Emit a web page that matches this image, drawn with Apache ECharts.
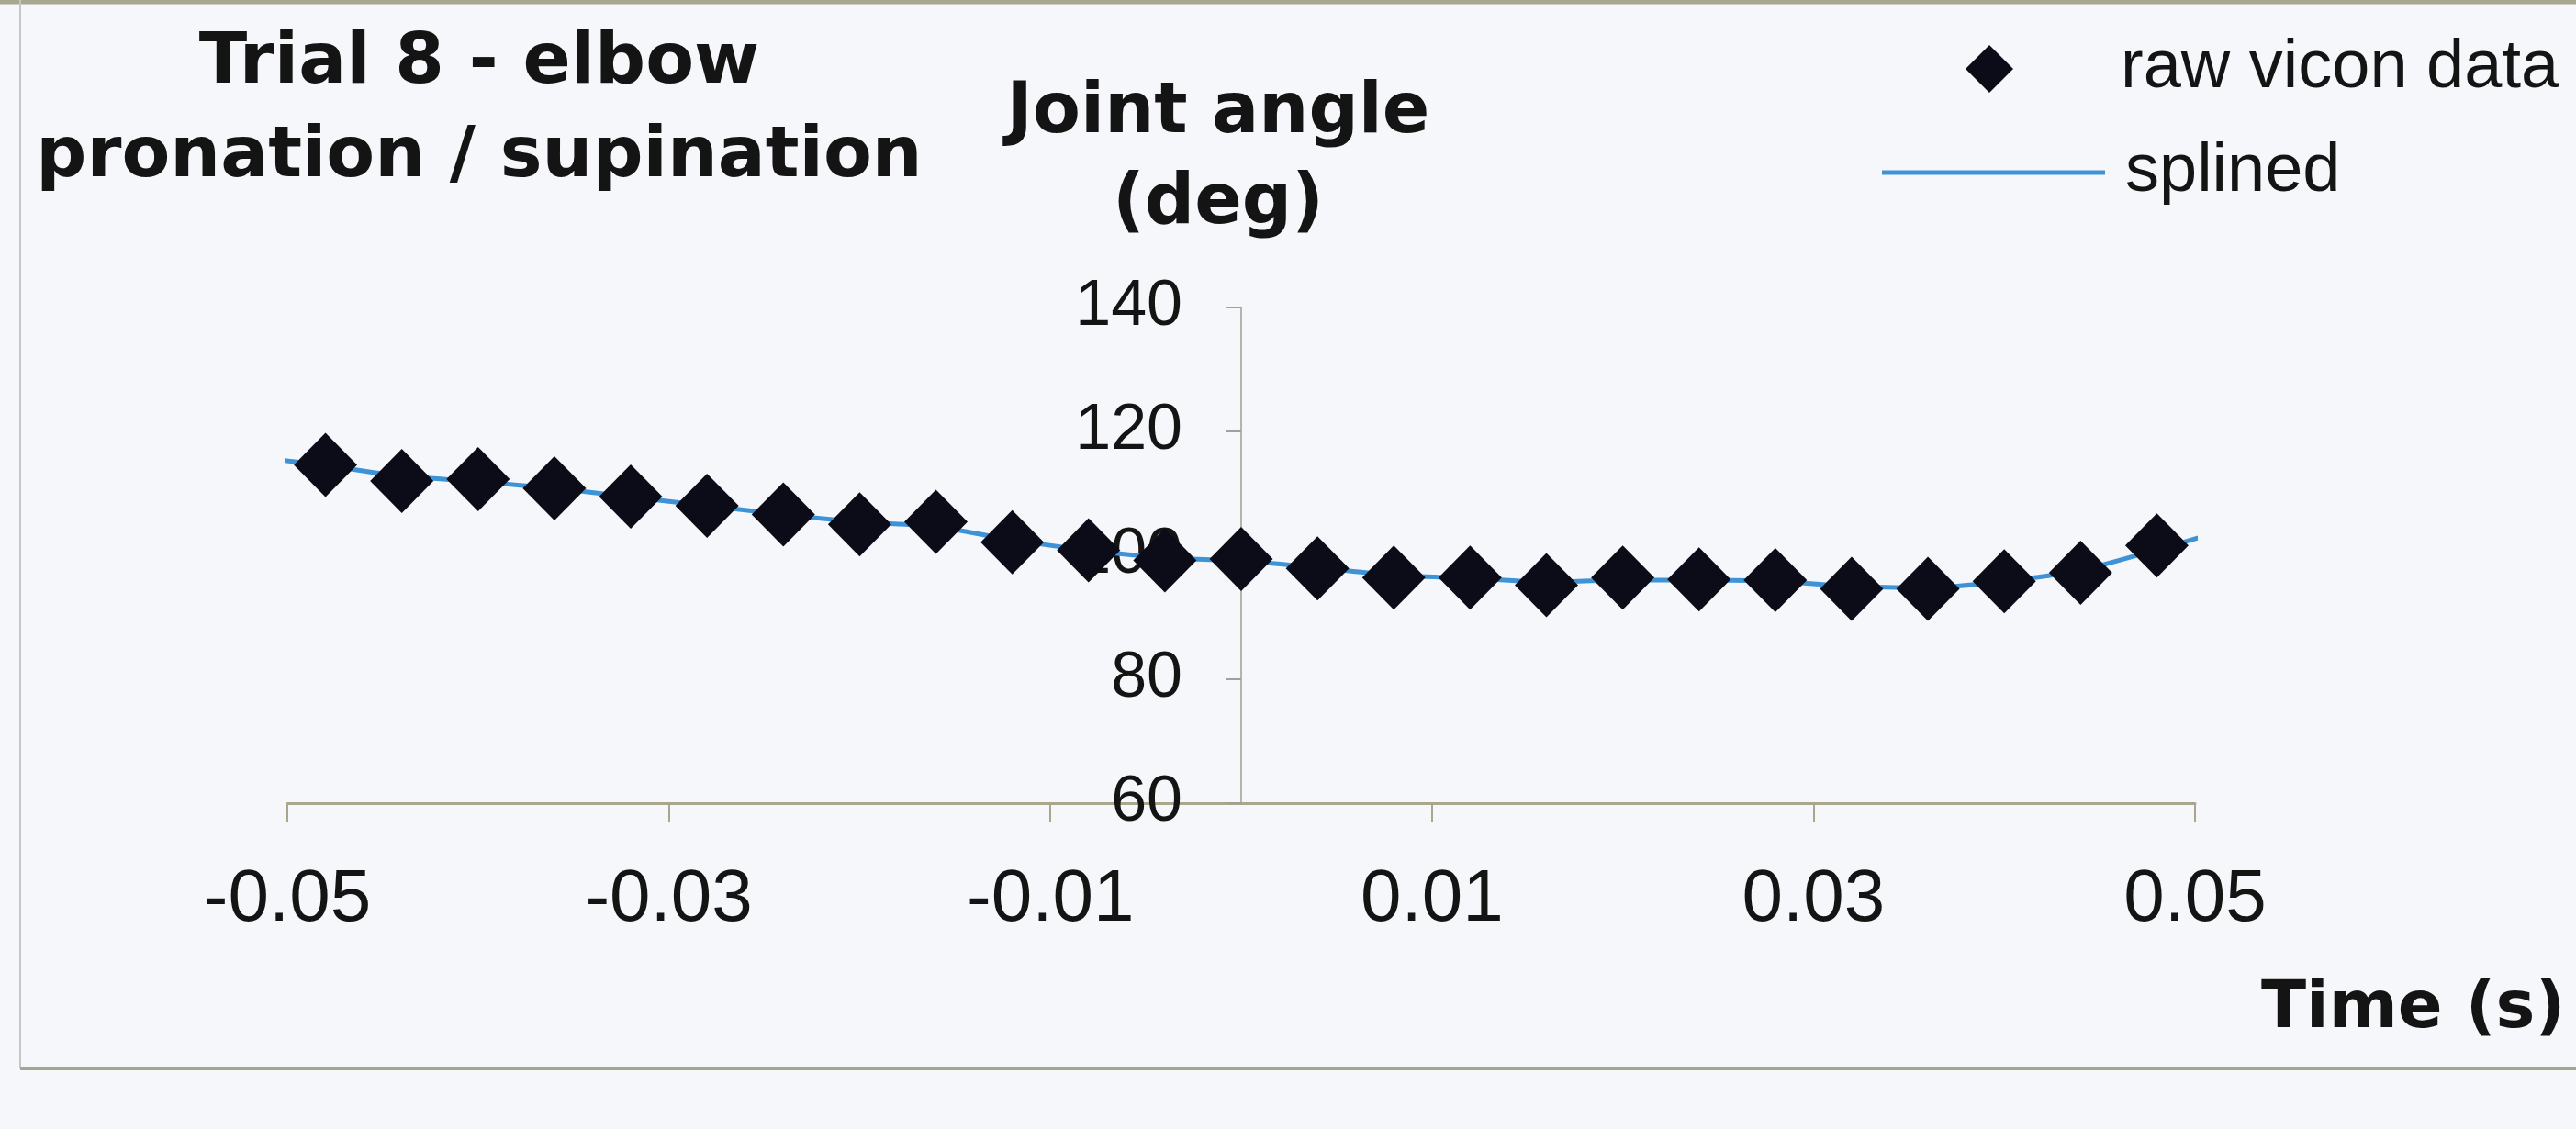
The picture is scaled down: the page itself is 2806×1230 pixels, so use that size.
<!DOCTYPE html>
<html>
<head>
<meta charset="utf-8">
<title>Trial 8 - elbow pronation / supination</title>
<script src="https://cdn.jsdelivr.net/npm/echarts@6/dist/echarts.min.js"></script>
<style>
  html, body { margin: 0; padding: 0; background: #f5f7fa; }
  #chart { width: 2806px; height: 1230px; }
</style>
</head>
<body>
<div id="chart"></div>
<script>
// Raw Vicon samples (time in s, joint angle in deg)
const timeRaw = [-0.048, -0.044, -0.040, -0.036, -0.032, -0.028, -0.024, -0.020, -0.016,
                 -0.012, -0.008, -0.004, 0.000, 0.004, 0.008, 0.012, 0.016, 0.020,
                 0.024, 0.028, 0.032, 0.036, 0.040, 0.044, 0.048];
const angleRaw = [114.6, 112.0, 112.3, 110.8, 109.5, 108.0, 106.6, 105.0, 105.4,
                  102.1, 100.8, 99.2, 99.4, 97.9, 96.4, 96.4, 95.2, 96.4,
                  96.1, 96.0, 94.6, 94.6, 95.8, 97.2, 101.6];

// Splined curve
const timeSpline = [-0.0515, -0.048, -0.044, -0.040, -0.036, -0.032, -0.028, -0.024, -0.020,
                    -0.016, -0.012, -0.008, -0.004, 0.000, 0.004, 0.008, 0.012, 0.016,
                    0.020, 0.024, 0.028, 0.032, 0.036, 0.040, 0.044, 0.048, 0.0515];
const angleSpline = [115.8, 114.5, 112.8, 111.9, 110.8, 109.4, 108.0, 106.6, 105.4,
                     104.6, 102.5, 100.8, 99.6, 99.1, 98.0, 96.8, 96.3, 95.7,
                     96.0, 96.0, 95.8, 95.0, 94.8, 95.8, 97.6, 100.9, 104.0];

// Axis ticks
const timeTicks = [-0.05, -0.03, -0.01, 0.01, 0.03, 0.05];
const timeMin = -0.05, timeMax = 0.05;
const angleMin = 60, angleMax = 140, angleStep = 20;

const INK = '#141414';
const BOLD_FONT = '"DejaVu Sans", sans-serif';
const PLAIN_FONT = '"Liberation Sans", Arial, sans-serif';
const SPLINE_BLUE = '#3d93d6';

// plot area
const GRID = { left: 313, right: 415, top: 335, bottom: 355 };
const plotWidth = 2806 - GRID.left - GRID.right;
// the angle axis crosses the time axis at t = 0
const angleAxisShift = plotWidth * (0 - timeMin) / (timeMax - timeMin);

const chart = echarts.init(document.getElementById('chart'), null, { renderer: 'canvas' });

chart.setOption({
  backgroundColor: '#f5f7fa',
  animation: false,
  title: {
    text: 'Trial 8 - elbow\npronation / supination',
    left: 522,
    top: 19,
    textAlign: 'center',
    padding: 0,
    textStyle: {
      fontFamily: BOLD_FONT, fontWeight: 'bold', fontSize: 77,
      lineHeight: 102, color: INK
    }
  },
  legend: [
    {
      data: ['raw vicon data'],
      left: 2141, top: 38, padding: 0,
      itemWidth: 52, itemHeight: 52,
      icon: 'diamond',
      selectedMode: false,
      textStyle: { fontFamily: PLAIN_FONT, fontSize: 74, color: INK, padding: [0, 0, 0, 112] }
    },
    {
      data: [{ name: 'splined', icon: 'rect' }],
      left: 2050, top: 151, padding: 0,
      itemWidth: 243, itemHeight: 5,
      selectedMode: false,
      textStyle: { fontFamily: PLAIN_FONT, fontSize: 74, color: INK, padding: [0, 0, 0, 17] }
    }
  ],
  grid: {
    left: GRID.left, right: GRID.right, top: GRID.top, bottom: GRID.bottom,
    outerBoundsMode: 'none'
  },
  xAxis: {
    type: 'value',
    min: timeMin, max: timeMax,
    name: 'Time (s)',
    nameLocation: 'end',
    nameGap: 72,
    nameTextStyle: {
      fontFamily: BOLD_FONT, fontWeight: 'bold', fontSize: 72, color: INK,
      align: 'left', verticalAlign: 'top', padding: [189, 0, 0, 0]
    },
    splitLine: { show: false },
    axisLine: { lineStyle: { color: '#a9a68c', width: 3 } },
    axisTick: {
      customValues: timeTicks, inside: false, length: 20,
      lineStyle: { color: '#a9a68c', width: 2 }
    },
    axisLabel: {
      customValues: timeTicks,
      formatter: v => v.toFixed(2),
      margin: 66,
      fontFamily: PLAIN_FONT, fontSize: 80, color: INK
    }
  },
  yAxis: {
    type: 'value',
    min: angleMin, max: angleMax, interval: angleStep,
    position: 'left',
    offset: -angleAxisShift,
    name: 'Joint angle\n(deg)',
    nameLocation: 'end',
    nameGap: 62,
    nameTextStyle: {
      fontFamily: BOLD_FONT, fontWeight: 'bold', fontSize: 76, lineHeight: 99,
      color: INK, align: 'center', padding: [0, 50, 0, 0]
    },
    splitLine: { show: false },
    axisLine: { onZero: false, lineStyle: { color: '#b4b4ac', width: 2 } },
    axisTick: { inside: false, length: 17, lineStyle: { color: '#a0a098', width: 2 } },
    axisLabel: {
      margin: 64,
      fontFamily: PLAIN_FONT, fontSize: 70, color: INK
    }
  },
  series: [
    {
      name: 'splined',
      type: 'line',
      data: timeSpline.map((t, i) => [t, angleSpline[i]]),
      smooth: 0.3,
      symbol: 'none',
      z: 2,
      itemStyle: { color: SPLINE_BLUE },
      lineStyle: { color: SPLINE_BLUE, width: 5 }
    },
    {
      name: 'raw vicon data',
      type: 'scatter',
      data: timeRaw.map((t, i) => [t, angleRaw[i]]),
      symbol: 'diamond',
      symbolSize: [69, 70],
      z: 3,
      itemStyle: { color: '#0c0c18', opacity: 1 }
    }
  ],
  graphic: [
    // page frame around the figure
    { type: 'line', shape: { x1: 0, y1: 2, x2: 2806, y2: 2 },
      style: { stroke: '#a7a890', lineWidth: 5 }, silent: true },
    { type: 'line', shape: { x1: 22, y1: 0, x2: 22, y2: 1164 },
      style: { stroke: '#c4c6c4', lineWidth: 2 }, silent: true },
    { type: 'line', shape: { x1: 22, y1: 1164, x2: 2806, y2: 1164 },
      style: { stroke: '#a4a58e', lineWidth: 4 }, silent: true }
  ]
});
</script>
</body>
</html>
